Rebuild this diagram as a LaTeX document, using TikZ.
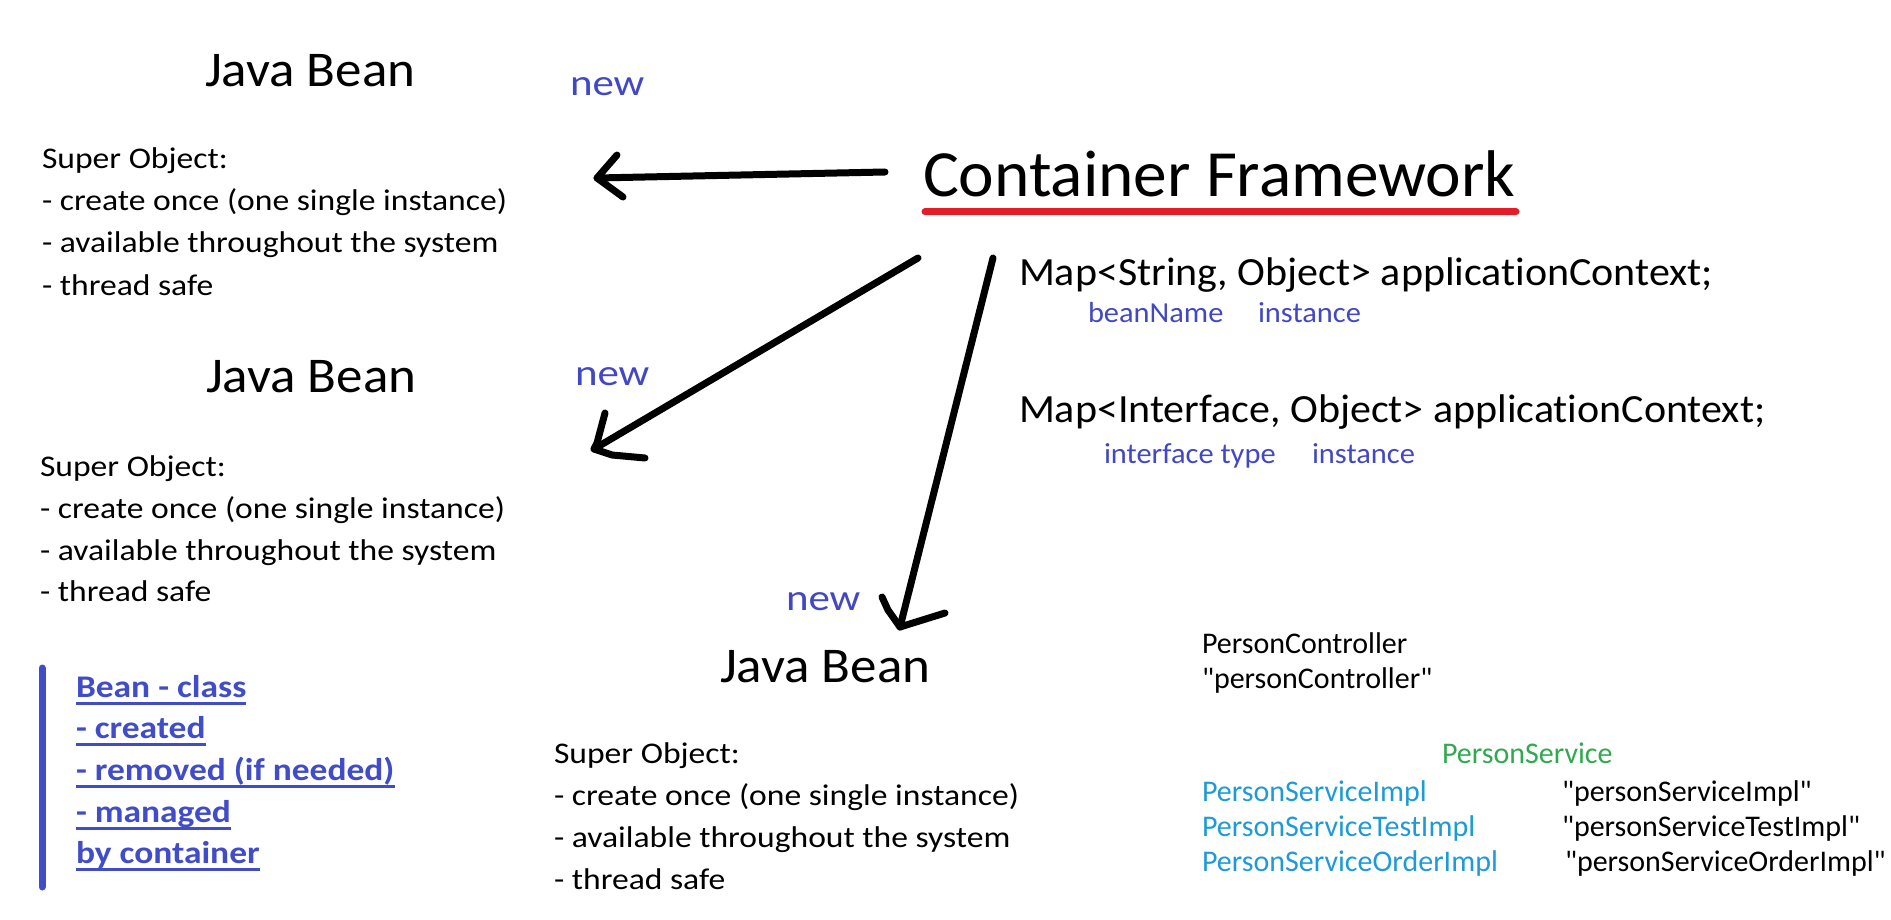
\documentclass[tikz,border=0pt]{standalone}
\usepackage{graphicx}
\usepackage{fontspec}
\setmainfont{Carlito}[Ligatures={TeXOff,NoCommon}]
\newfontfamily\fbody{Carlito}[FakeStretch=1.12, Ligatures={TeXOff,NoCommon}]
\newfontfamily\fnew{Carlito}[FakeStretch=1.16, Ligatures={TeXOff,NoCommon}]
\newfontfamily\fbean{Carlito}[FakeStretch=1.06, Ligatures={TeXOff,NoCommon}]
\newfontfamily\fmap{Carlito}[FakeStretch=1.05, Ligatures={TeXOff,NoCommon}]
\newfontfamily\fnote{Carlito}[FakeStretch=1.125, Ligatures={TeXOff,NoCommon}]
\newfontfamily\fcf{Carlito}[FakeStretch=1.02, Ligatures={TeXOff,NoCommon}]
\definecolor{nblue}{RGB}{66,72,196}
\definecolor{bblue}{RGB}{64,76,200}
\definecolor{cyanish}{RGB}{30,155,215}
\definecolor{greenish}{RGB}{50,168,80}
\definecolor{redline}{RGB}{228,30,40}
\tikzset{
  txt/.style={anchor=base west, inner sep=0pt, outer sep=0pt},
  beantitle/.style={txt, font=\fbean\fontsize{50}{60}\selectfont},
  newlbl/.style={txt, text=nblue, font=\fnew\fontsize{37}{44}\selectfont},
  bodyline/.style={txt, font=\fbody\fontsize{30}{36}\selectfont},
  maptxt/.style={txt, font=\fmap\fontsize{40}{48}\selectfont},
  mapnote/.style={txt, text=nblue, font=\fmap\fontsize{29}{35}\selectfont},
  notetxt/.style={txt, text=bblue, font=\fnote\bfseries\fontsize{31.5}{38}\selectfont},
  smalltxt/.style={txt, font=\fontsize{30}{36}\selectfont},
  penline/.style={line width=7pt, line cap=round, line join=round},
  uline/.style={bblue, line width=3pt},
}
\begin{document}
\begin{tikzpicture}[x=1pt,y=-1pt]
\useasboundingbox[fill=white] (0,0) rectangle (1891,920);

% Container
\node[txt, font=\fcf\fontsize{66}{80}\selectfont] (cf) at (923,197) {Container Framework};
\draw[redline, line width=7pt, line cap=round] (cf.base west) ++(2,15) coordinate (ul1) -- (1516,212) coordinate (ul2);

% Bean 1
\node[beantitle] (jb1) at (205,87) {Java Bean};
\node[newlbl] (new1) at (570,96) {new};
\node[bodyline] (s1a) at (42,169) {Super Object:};
\node[bodyline] (s1b) at (42,211) {- create once (one single instance)};
\node[bodyline] (s1c) at (42,253) {- available throughout the system};
\node[bodyline] (s1d) at (42,295) {- thread safe};

% Bean 2
\node[beantitle] (jb2) at (206,392) {Java Bean};
\node[newlbl] (new2) at (575,385) {new};
\node[bodyline] (s2a) at (40,476) {Super Object:};
\node[bodyline] (s2b) at (40,518) {- create once (one single instance)};
\node[bodyline] (s2c) at (40,560) {- available throughout the system};
\node[bodyline] (s2d) at (40,601) {- thread safe};

% Bean 3
\node[beantitle] (jb3) at (720,682) {Java Bean};
\node[newlbl] (new3) at (786,610) {new};
\node[bodyline] (s3a) at (554,763) {Super Object:};
\node[bodyline] (s3b) at (554,805) {- create once (one single instance)};
\node[bodyline] (s3c) at (554,847) {- available throughout the system};
\node[bodyline] (s3d) at (554,889) {- thread safe};

% Maps
\node[maptxt] (m1) at (1019,285) {Map<String, Object> applicationContext;};
\node[mapnote] (m1a) at (1088,323) {beanName};
\node[mapnote] (m1b) at (1258,323) {instance};
\node[maptxt] (m2) at (1019,422) {Map<Interface, Object> applicationContext;};
\node[mapnote] (m2a) at (1104,463) {interface type};
\node[mapnote] (m2b) at (1312,463) {instance};

% Right bottom
\node[smalltxt] (pc1) at (1202,653) {PersonController};
\node[smalltxt] (pc2) at (1202,688) {"personController"};
\node[smalltxt, text=greenish] (ps) at (1442,763) {PersonService};
\node[smalltxt, text=cyanish] (psi1) at (1202,801) {PersonServiceImpl};
\node[smalltxt, text=cyanish] (psi2) at (1202,836) {PersonServiceTestImpl};
\node[smalltxt, text=cyanish] (psi3) at (1202,871) {PersonServiceOrderImpl};
\node[smalltxt] (pn1) at (1562,801) {"personServiceImpl"};
\node[smalltxt] (pn2) at (1562,836) {"personServiceTestImpl"};
\node[smalltxt] (pn3) at (1565,871) {"personServiceOrderImpl"};

% Note box
\draw[bblue, line width=7pt, line cap=round] (42,668) coordinate (bar1) -- (42,887) coordinate (bar2);
\foreach \n/\y/\t in {b1/697/{Bean - class}, b2/738/{- created}, b3/780/{- removed (if needed)}, b4/822/{- managed}, b5/863/{by container}}{
  \node[notetxt] (\n) at (76,\y) {\t};
  \draw[uline] ([yshift=-6pt]\n.base west) -- ([yshift=-6pt]\n.base east);
}

% Arrows
\coordinate (a1s) at (885,172);
\coordinate (a1t) at (597,178);
\draw[penline] (a1s) -- (a1t);
\draw[penline] (617,155) -- (a1t) -- (623,197);

\coordinate (a2s) at (918,258);
\coordinate (a2t) at (594,449);
\draw[penline] (a2s) -- (a2t);
\draw[penline] (605,413) -- (597,443) -- (a2t) -- (612,455) -- (645,458);

\coordinate (a3s) at (993,258);
\coordinate (a3t) at (900,627);
\draw[penline] (a3s) -- (a3t);
\draw[penline] (882,597) -- (888,610) -- (a3t) -- (945,613);
\end{tikzpicture}
\end{document}
